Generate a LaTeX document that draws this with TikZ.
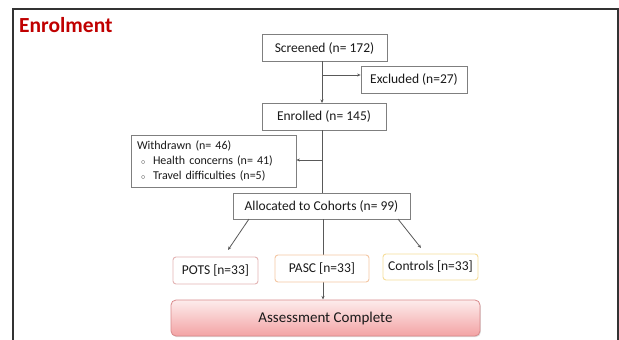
\documentclass[tikz,border=0pt]{standalone}
\usepackage{fontspec}
\setmainfont{Carlito}
\usetikzlibrary{arrows.meta,shadows}
\definecolor{titlered}{HTML}{C00000}
\definecolor{boxgrey}{HTML}{7F7F7F}
\definecolor{txt}{HTML}{1A1A1A}
\definecolor{potsc}{HTML}{E3B4B4}
\definecolor{pascc}{HTML}{F4C7A4}
\definecolor{ctrlc}{HTML}{F6DD9A}
\definecolor{asstop}{HTML}{FDECEC}
\definecolor{assbot}{HTML}{F3A3A4}
\definecolor{assbord}{HTML}{D9898B}
\tikzset{
  flowbox/.style={draw=boxgrey, line width=0.8pt, fill=white, inner sep=0pt, text=txt, font=\fontsize{13.5}{15}\selectfont},
  cohort/.style={draw=#1, line width=0.9pt, fill=white, rounded corners=3pt, inner sep=0pt, text=txt, font=\fontsize{13.5}{15}\selectfont, minimum height=27pt},
  conn/.style={draw=black!65, line width=0.8pt},
  arr/.style={conn, -{Stealth[length=3.5pt,width=3pt]}},
}
\newcommand{\wdbullet}{\hspace*{4pt}\makebox[5pt][l]{\raisebox{0.5pt}{\fontsize{8}{8}\selectfont$\circ$}}\hspace{7pt}}
\begin{document}
\begin{tikzpicture}[x=1pt,y=-1pt]
\useasboundingbox (0,0) rectangle (619,340);
\fill[white] (0,0) rectangle (619,340);
% frame
\draw[line width=1.2pt, black!80] (13,340) -- (13,9) -- (618,9) -- (618,340);
\node[anchor=base west, text=titlered, font=\fontsize{21.5}{24}\selectfont\bfseries, inner sep=0pt] (title) at (19,32) {Enrolment};

\node[flowbox, minimum width=125pt, minimum height=27pt] (scr) at (324.5,48) {Screened (n= 172)};
\node[flowbox, minimum width=106pt, minimum height=27pt] (exc) at (414,79.5) {Excluded (n=27)};
\node[flowbox, minimum width=124pt, minimum height=27pt] (enr) at (324,116.5) {Enrolled (n= 145)};
\node[flowbox, minimum width=165pt, minimum height=52pt, align=left, font=\fontsize{12}{15}\selectfont, text width=153pt] (wd) at (213.5,161)
  {Withdrawn (n= 46)\\\wdbullet Health concerns (n= 41)\\\wdbullet Travel difficulties (n=5)};
\node[flowbox, minimum width=177pt, minimum height=26pt] (alloc) at (321.5,206) {Allocated to Cohorts (n= 99)};

\coordinate (b1) at (322,75);
\coordinate (b2) at (322,160);
\draw[arr] (322,61) -- (322,103);
\draw[arr] (b1) -- (b1 -| exc.west);
\draw[conn] (322,130) -- (322,193);
\draw[arr] (b2) -- (b2 -| wd.east);

% trunk to assessment (behind PASC)
\coordinate (t1) at (323,219);
\coordinate (t2) at (323,299.5);
\draw[arr] (t1) -- (t2);

\node[cohort=potsc, minimum width=85pt] (pots) at (215.5,270.5) {POTS [n=33]};
\node[cohort=pascc, minimum width=94pt] (pasc) at (322,268.5) {PASC [n=33]};
\node[cohort=ctrlc, minimum width=95pt, minimum height=26pt] (ctrl) at (430.5,267) {Controls [n=33]};

\draw[arr] (249,219) -- (228,250);
\draw[arr] (398,219) -- (421,248);

\node[draw=assbord, line width=0.8pt, rounded corners=5pt, top color=asstop, bottom color=assbot,
  minimum width=309pt, minimum height=36pt, inner sep=0pt, text=txt, font=\fontsize{15}{17}\selectfont,
  drop shadow={shadow xshift=0.8pt, shadow yshift=-1.2pt, opacity=0.25}] (ass) at (325.5,318) {Assessment Complete};
\end{tikzpicture}
\end{document}
